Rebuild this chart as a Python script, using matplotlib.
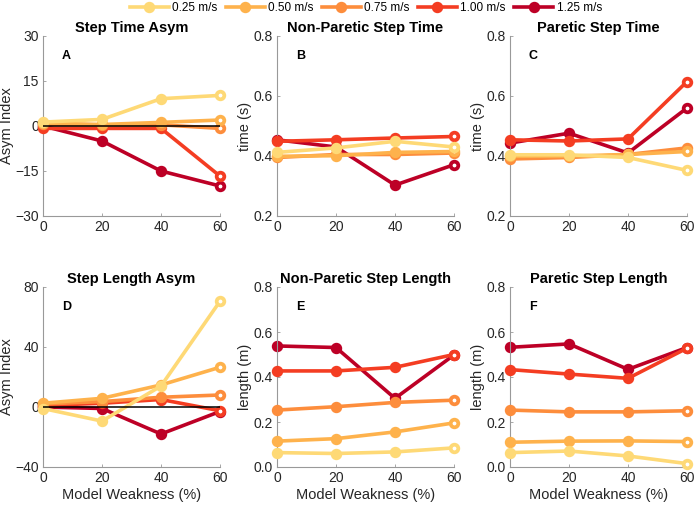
import matplotlib.pyplot as plt
from matplotlib.lines import Line2D

plt.rcParams['font.family'] = ['Liberation Sans', 'DejaVu Sans']

weakness = [0, 20, 40, 60]
speeds = ['0.25 m/s', '0.50 m/s', '0.75 m/s', '1.00 m/s', '1.25 m/s']
colors = ['#FED976', '#FEB24C', '#FD8D3C', '#F43D22', '#BD0026']

# one list per speed (0.25 .. 1.25 m/s)
step_time_asym = [
    [1.3, 2.2, 9.1, 10.2],
    [1.0, 0.5, 1.2, 2.0],
    [0.5, 0.3, 0.4, -0.8],
    [-0.8, -0.8, -0.8, -16.7],
    [0.0, -5.0, -15.0, -20.0],
]
np_step_time = [
    [0.412, 0.427, 0.449, 0.430],
    [0.399, 0.401, 0.412, 0.415],
    [0.395, 0.405, 0.405, 0.410],
    [0.449, 0.454, 0.460, 0.465],
    [0.454, 0.430, 0.303, 0.371],
]
p_step_time = [
    [0.404, 0.404, 0.395, 0.352],
    [0.399, 0.400, 0.405, 0.415],
    [0.390, 0.395, 0.405, 0.427],
    [0.454, 0.450, 0.457, 0.648],
    [0.443, 0.476, 0.410, 0.560],
]
step_length_asym = [
    [-1.0, -9.4, 14.0, 70.5],
    [2.5, 5.8, 14.7, 26.5],
    [2.0, 3.6, 6.5, 8.0],
    [1.0, 2.5, 5.0, -2.5],
    [0.0, -1.0, -18.0, -3.0],
]
np_step_length = [
    [0.064, 0.060, 0.067, 0.085],
    [0.115, 0.126, 0.156, 0.196],
    [0.253, 0.268, 0.287, 0.297],
    [0.427, 0.427, 0.443, 0.500],
    [0.538, 0.531, 0.305, 0.498],
]
p_step_length = [
    [0.064, 0.071, 0.049, 0.015],
    [0.110, 0.115, 0.116, 0.113],
    [0.253, 0.245, 0.245, 0.250],
    [0.433, 0.413, 0.394, 0.528],
    [0.532, 0.547, 0.434, 0.531],
]

panels = [
    ('Step Time Asym', 'A', step_time_asym, 'Asym Index', (-30, 30), [-30, -15, 0, 15, 30], True),
    ('Non-Paretic Step Time', 'B', np_step_time, 'time (s)', (0.2, 0.8), [0.2, 0.4, 0.6, 0.8], False),
    ('Paretic Step Time', 'C', p_step_time, 'time (s)', (0.2, 0.8), [0.2, 0.4, 0.6, 0.8], False),
    ('Step Length Asym', 'D', step_length_asym, 'Asym Index', (-40, 80), [-40, 0, 40, 80], True),
    ('Non-Paretic Step Length', 'E', np_step_length, 'length (m)', (0, 0.8), [0, 0.2, 0.4, 0.6, 0.8], False),
    ('Paretic Step Length', 'F', p_step_length, 'length (m)', (0, 0.8), [0, 0.2, 0.4, 0.6, 0.8], False),
]

W, H = 694, 509
fig = plt.figure(figsize=(W / 100, H / 100), dpi=100)

lefts = [43, 277, 510]
tops = [36, 287]
aw, ah = 177, 180

ms = 5.5
mew = 2.7
lw = 2.6
txt = '#262626'

for i, (title, letter, data, ylab, ylim, yticks, zero) in enumerate(panels):
    r, c = divmod(i, 3)
    ax = fig.add_axes([lefts[c] / W, 1 - (tops[r] + ah) / H, aw / W, ah / H])
    # fastest speed first so slower speeds sit on top
    for k in range(len(speeds) - 1, -1, -1):
        col = colors[k]
        z = 2 + (4 - k)
        ax.plot(weakness, data[k], '-', color=col, lw=lw, zorder=z, clip_on=False)
        ax.plot(weakness[:-1], data[k][:-1], 'o', ms=ms, mew=mew,
                mec=col, mfc=col, zorder=z, clip_on=False)
        ax.plot(weakness[-1:], data[k][-1:], 'o', ms=ms, mew=mew,
                mec=col, mfc='white', zorder=z, clip_on=False)
    if zero:
        ax.plot([0, 60], [0, 0], color='black', lw=1.1, zorder=10)
    ax.set_xlim(0, 60)
    ax.set_xticks(weakness)
    ax.set_ylim(*ylim)
    ax.set_yticks(yticks)
    ax.set_title(title, fontsize=10.5, fontweight='bold', pad=3)
    ax.set_ylabel(ylab, fontsize=10.5, color=txt, labelpad=1)
    if r == 1:
        ax.set_xlabel('Model Weakness (%)', fontsize=10.5, color=txt, labelpad=2)
    ax.text(0.107, 0.89, letter, transform=ax.transAxes, fontsize=9,
            fontweight='bold', va='center')
    for s in ['top', 'right']:
        ax.spines[s].set_visible(False)
    for s in ['left', 'bottom']:
        ax.spines[s].set_color('#999999')
        ax.spines[s].set_linewidth(0.8)
    ax.tick_params(direction='in', length=2.5, width=0.6, colors='#999999',
                   labelcolor=txt, labelsize=10, pad=3)

handles = [Line2D([0], [0], color=colors[k], lw=lw, marker='o', ms=ms,
                  mew=mew, mec=colors[k], mfc=colors[k]) for k in range(len(speeds))]
fig.legend(handles, speeds, loc='center', bbox_to_anchor=(0.527, 1 - 8 / H),
           ncol=5, frameon=False, fontsize=8.5, handlelength=3.3,
           columnspacing=0.7, handletextpad=0.3, borderpad=0)

fig.savefig('out.png', dpi=100)
